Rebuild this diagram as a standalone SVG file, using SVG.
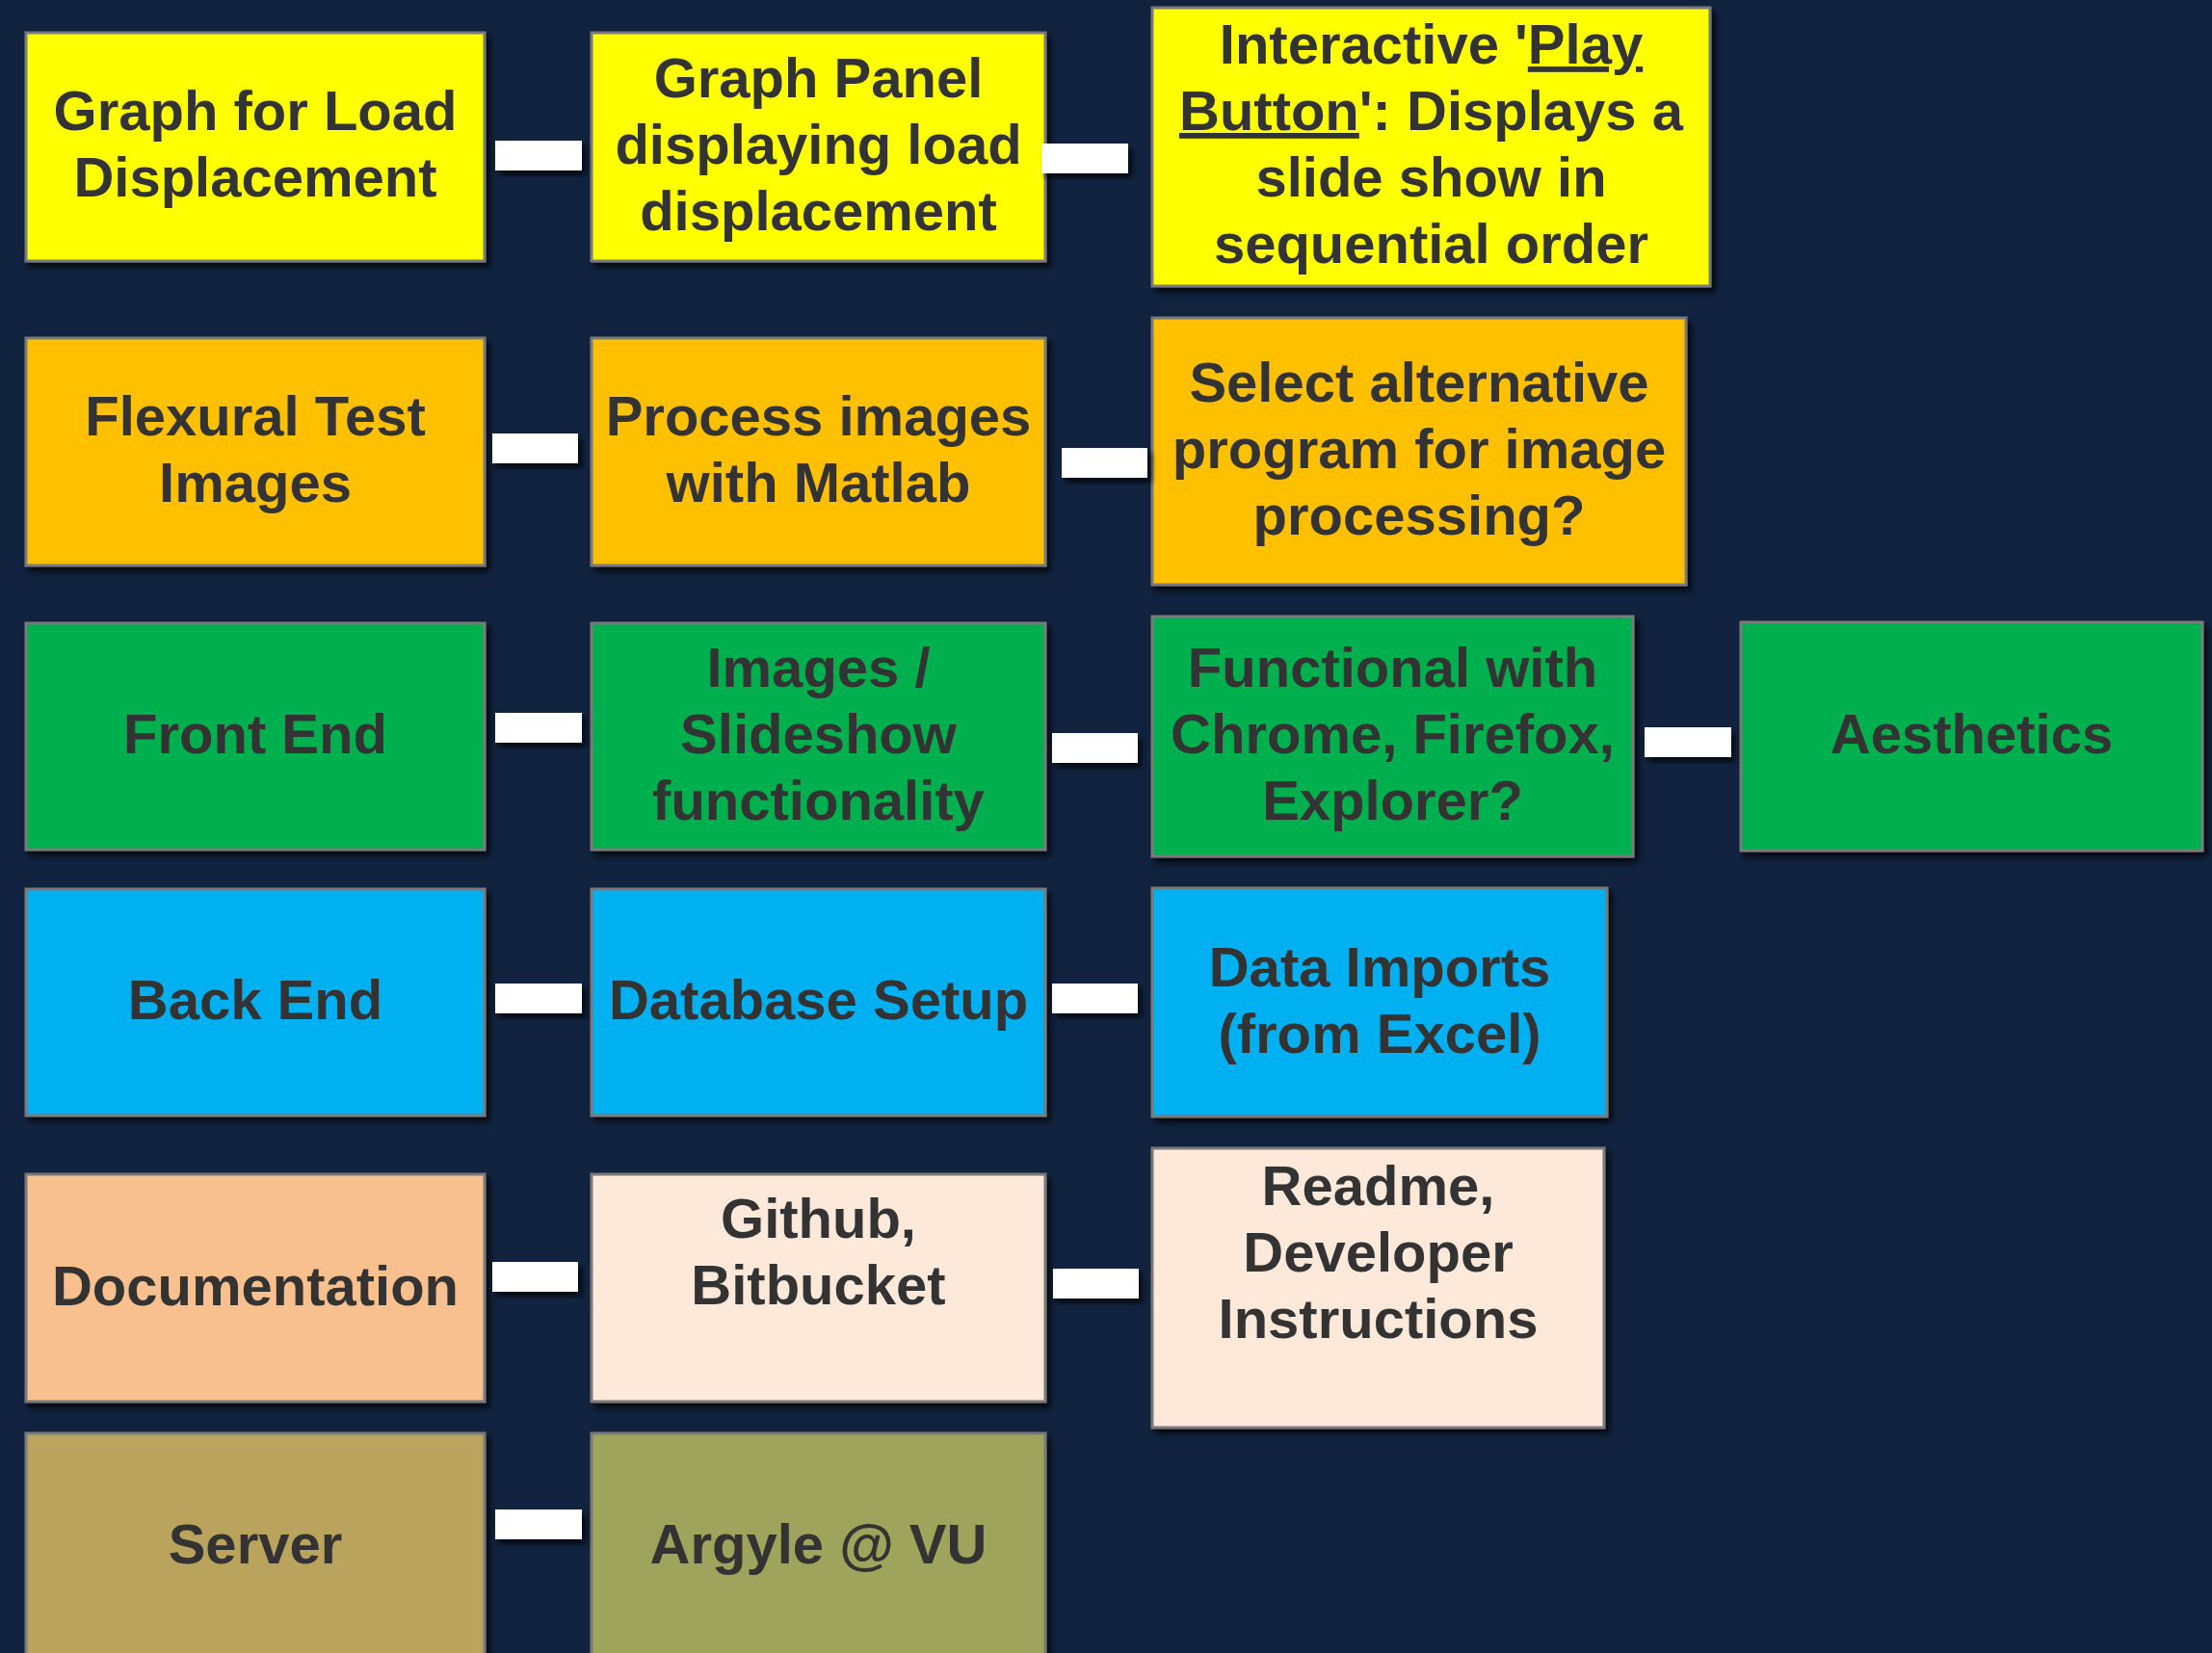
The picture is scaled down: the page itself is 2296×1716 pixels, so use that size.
<svg xmlns="http://www.w3.org/2000/svg" width="2296" height="1716" viewBox="0 0 2296 1716">
<defs>
<filter id="sh" x="-10%" y="-10%" width="125%" height="130%"><feDropShadow dx="4" dy="5" stdDeviation="3" flood-color="#000" flood-opacity="0.75"/></filter>
<filter id="shl" x="-50%" y="-5%" width="300%" height="110%"><feDropShadow dx="3" dy="3" stdDeviation="2" flood-color="#000" flood-opacity="0.7"/></filter>
<style>
.box{stroke:#7a7a7a;stroke-width:3;filter:url(#sh)}
.t{font-family:"Liberation Sans",Arial,sans-serif;font-weight:bold;font-size:58px;fill:#333333;text-anchor:middle}
.ln{stroke:#5c5c5c;stroke-width:4;fill:none;filter:url(#shl)}
.lab{fill:#ffffff;filter:url(#sh)}
.u{text-decoration:underline}
</style>
</defs>
<rect x="0" y="0" width="2296" height="1716" fill="#11233f"/>
<g id="connectors">
<line class="ln" x1="28.5" y1="152" x2="28.5" y2="1606"/>
<line class="ln" x1="503" y1="152" x2="614" y2="152"/>
<line class="ln" x1="1085" y1="152" x2="1196" y2="152"/>
<line class="ln" x1="503" y1="469" x2="614" y2="469"/>
<line class="ln" x1="1085" y1="469" x2="1196" y2="469"/>
<line class="ln" x1="503" y1="765" x2="614" y2="765"/>
<line class="ln" x1="1085" y1="765" x2="1196" y2="765"/>
<line class="ln" x1="1695" y1="765" x2="1807" y2="765"/>
<line class="ln" x1="503" y1="1041" x2="614" y2="1041"/>
<line class="ln" x1="1085" y1="1041" x2="1196" y2="1041"/>
<line class="ln" x1="503" y1="1337" x2="614" y2="1337"/>
<line class="ln" x1="1085" y1="1337" x2="1196" y2="1337"/>
<line class="ln" x1="503" y1="1606" x2="614" y2="1606" stroke-width="5"/>
</g>
<g id="n1"><rect class="box" x="27" y="34" width="476" height="237" fill="#ffff00"/>
<text class="t" x="265" y="135">Graph for Load</text><text class="t" x="265" y="204">Displacement</text></g>
<g id="n2"><rect class="box" x="614" y="34" width="471" height="237" fill="#ffff00"/>
<text class="t" x="849.5" y="101">Graph Panel</text><text class="t" x="849.5" y="170">displaying load</text><text class="t" x="849.5" y="239">displacement</text></g>
<g id="n3"><rect class="box" x="1196" y="8" width="579" height="289" fill="#ffff00"/>
<text class="t" x="1485.5" y="66">Interactive '<tspan class="u">Play</tspan></text>
<text class="t" x="1485.5" y="135"><tspan class="u">Button</tspan>': Displays a</text>
<text class="t" x="1485.5" y="204">slide show in</text>
<text class="t" x="1485.5" y="273">sequential order</text></g>
<g id="n4"><rect class="box" x="27" y="351" width="476" height="236" fill="#ffc000"/>
<text class="t" x="265" y="452">Flexural Test</text><text class="t" x="265" y="521">Images</text></g>
<g id="n5"><rect class="box" x="614" y="351" width="471" height="236" fill="#ffc000"/>
<text class="t" x="849.5" y="452">Process images</text><text class="t" x="849.5" y="521">with Matlab</text></g>
<g id="n6"><rect class="box" x="1196" y="330" width="554" height="277" fill="#ffc000"/>
<text class="t" x="1473" y="417">Select alternative</text><text class="t" x="1473" y="486">program for image</text><text class="t" x="1473" y="555">processing?</text></g>
<g id="n7"><rect class="box" x="27" y="647" width="476" height="235" fill="#00b050"/>
<text class="t" x="265" y="782">Front End</text></g>
<g id="n8"><rect class="box" x="614" y="647" width="471" height="235" fill="#00b050"/>
<text class="t" x="849.5" y="713">Images /</text><text class="t" x="849.5" y="782">Slideshow</text><text class="t" x="849.5" y="851">functionality</text></g>
<g id="n9"><rect class="box" x="1196" y="640" width="499" height="249" fill="#00b050"/>
<text class="t" x="1445.5" y="713">Functional with</text><text class="t" x="1445.5" y="782">Chrome, Firefox,</text><text class="t" x="1445.5" y="851">Explorer?</text></g>
<g id="n10"><rect class="box" x="1807" y="646" width="479" height="237" fill="#00b050"/>
<text class="t" x="2046.5" y="782">Aesthetics</text></g>
<g id="n11"><rect class="box" x="27" y="923" width="476" height="235" fill="#00b0f0"/>
<text class="t" x="265" y="1058">Back End</text></g>
<g id="n12"><rect class="box" x="614" y="923" width="471" height="235" fill="#00b0f0"/>
<text class="t" x="849.5" y="1058">Database Setup</text></g>
<g id="n13"><rect class="box" x="1196" y="922" width="472" height="237" fill="#00b0f0"/>
<text class="t" x="1432" y="1024">Data Imports</text><text class="t" x="1432" y="1093">(from Excel)</text></g>
<g id="n14"><rect class="box" x="27" y="1219" width="476" height="236" fill="#f9c08f"/>
<text class="t" x="265" y="1355">Documentation</text></g>
<g id="n15"><rect class="box" x="614" y="1219" width="471" height="236" fill="#fde9d9"/>
<text class="t" x="849.5" y="1285">Github,</text><text class="t" x="849.5" y="1354">Bitbucket</text></g>
<g id="n16"><rect class="box" x="1196" y="1192" width="469" height="290" fill="#fde9d9"/>
<text class="t" x="1430.5" y="1251">Readme,</text><text class="t" x="1430.5" y="1320">Developer</text><text class="t" x="1430.5" y="1389">Instructions</text></g>
<g id="n17"><rect class="box" x="27" y="1488" width="476" height="236" fill="#baa35c"/>
<text class="t" x="265" y="1623">Server</text></g>
<g id="n18"><rect class="box" x="614" y="1488" width="471" height="236" fill="#9ea45b"/>
<text class="t" x="849.5" y="1623">Argyle @ VU</text></g>
<g id="labels">
<rect class="lab" x="514" y="146" width="90" height="31"/>
<rect class="lab" x="1081" y="149" width="90" height="31"/>
<rect class="lab" x="511" y="450" width="89" height="31"/>
<rect class="lab" x="1102" y="465" width="89" height="31"/>
<rect class="lab" x="514" y="740" width="90" height="31"/>
<rect class="lab" x="1092" y="761" width="89" height="31"/>
<rect class="lab" x="1707" y="755" width="90" height="31"/>
<rect class="lab" x="514" y="1021" width="90" height="31"/>
<rect class="lab" x="1092" y="1021" width="89" height="31"/>
<rect class="lab" x="511" y="1310" width="89" height="31"/>
<rect class="lab" x="1093" y="1317" width="89" height="31"/>
<rect class="lab" x="514" y="1567" width="90" height="31"/>
</g>
</svg>
